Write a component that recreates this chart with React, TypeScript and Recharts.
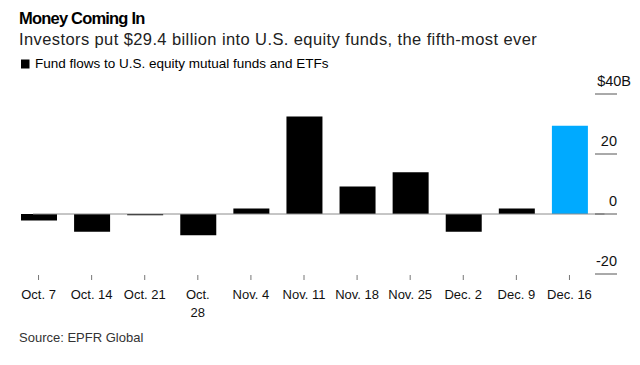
import React from 'react';
import { BarChart, Bar, XAxis, YAxis, Cell, ReferenceLine } from 'recharts';

const weeks = ['Oct. 7', 'Oct. 14', 'Oct. 21', 'Oct. 28', 'Nov. 4', 'Nov. 11', 'Nov. 18', 'Nov. 25', 'Dec. 2', 'Dec. 9', 'Dec. 16'];
const flows = [-2.2, -5.9, -0.4, -7.1, 1.8, 32.5, 9.2, 13.9, -5.9, 1.8, 29.4];
const weekLabelLines = [['Oct. 7'], ['Oct. 14'], ['Oct. 21'], ['Oct.', '28'], ['Nov. 4'], ['Nov. 11'], ['Nov. 18'], ['Nov. 25'], ['Dec. 2'], ['Dec. 9'], ['Dec. 16']];
const highlightWeek = 'Dec. 16';
const yTicks = [-20, 0, 20, 40];
const yTickLabels = ['-20', '0', '20', '$40B'];

const title = 'Money Coming In';
const subtitle = 'Investors put $29.4 billion into U.S. equity funds, the fifth-most ever';
const legendLabel = 'Fund flows to U.S. equity mutual funds and ETFs';
const source = 'Source: EPFR Global';

const data = weeks.map((w, i) => ({ week: w, flow: flows[i] }));

const FONT = '"Liberation Sans", Arial, Helvetica, sans-serif';
const BLUE = '#00aaff';

const XTick = (props: any) => {
  const { x, y, payload } = props;
  const lines = weekLabelLines[payload.index] || [String(payload.value)];
  return (
    <g>
      <line x1={x} x2={x} y1={y + 1} y2={y + 6} stroke="#777" strokeWidth={1} />
      <text x={x} y={y + 25} textAnchor="middle" fontFamily={FONT} fontSize={13} fill="#111">
        {lines.map((l: string, i: number) => (
          <tspan key={i} x={x} dy={i === 0 ? 0 : 17.5}>{l}</tspan>
        ))}
      </text>
    </g>
  );
};

const YTick = (props: any) => {
  const { x, y, payload } = props;
  const idx = yTicks.indexOf(payload.value);
  const label = yTickLabels[idx] ?? String(payload.value);
  const isTop = idx === yTicks.length - 1;
  return (
    <g>
      <line x1={x - 1} x2={x + 21} y1={y} y2={y} stroke="#555" strokeWidth={1} />
      <text x={isTop ? x + 35 : x + 21} y={y - 8.5} textAnchor="end" fontFamily={FONT} fontSize={14.5} fill="#111">
        {label}
      </text>
    </g>
  );
};

const ZeroLine = (props: any) => {
  const { x1, x2, y1 } = props;
  return <line x1={x1 + 8.5} x2={x2 + 21} y1={y1} y2={y1} stroke="#8c8c8c" strokeWidth={1} />;
};

export default function App() {
  return (
    <div style={{ position: 'absolute', left: 0, top: 0, width: 640, height: 365, background: '#fff', overflow: 'hidden' }}>
      <svg width={640} height={365} style={{ position: 'absolute', left: 0, top: 0 }}>
        <text x={19} y={24} fontFamily={FONT} fontSize={16.5} letterSpacing={-0.8} fontWeight="bold" fill="#000">{title}</text>
        <text x={19} y={45} fontFamily={FONT} fontSize={16.5} letterSpacing={0.4} fill="#222">{subtitle}</text>
        <rect x={21} y={59.5} width={8.5} height={9} fill="#000" />
        <text x={35} y={68.3} fontFamily={FONT} fontSize={13.5} fill="#000">{legendLabel}</text>
        <text x={19} y={341.7} fontFamily={FONT} fontSize={13} fill="#333">{source}</text>
      </svg>
      <div style={{ position: 'absolute', left: 0, top: 0 }}>
        <BarChart width={640} height={365} data={data} margin={{ top: 94, right: 0, bottom: 0, left: 12 }}>
          <XAxis
            dataKey="week"
            axisLine={false}
            tickLine={false}
            tickSize={0}
            tickMargin={0}
            height={91}
            interval={0}
            tick={<XTick />}
          />
          <YAxis
            orientation="right"
            domain={[-20, 40]}
            ticks={yTicks}
            axisLine={false}
            tickLine={false}
            tickSize={0}
            tickMargin={0}
            width={44}
            interval={0}
            tick={<YTick />}
          />
          <Bar dataKey="flow" barSize={36} isAnimationActive={false}>
            {data.map((d, i) => (
              <Cell key={i} fill={d.week === highlightWeek ? BLUE : '#000'} />
            ))}
          </Bar>
          <ReferenceLine y={0} shape={<ZeroLine />} ifOverflow="visible" />
        </BarChart>
      </div>
    </div>
  );
}
